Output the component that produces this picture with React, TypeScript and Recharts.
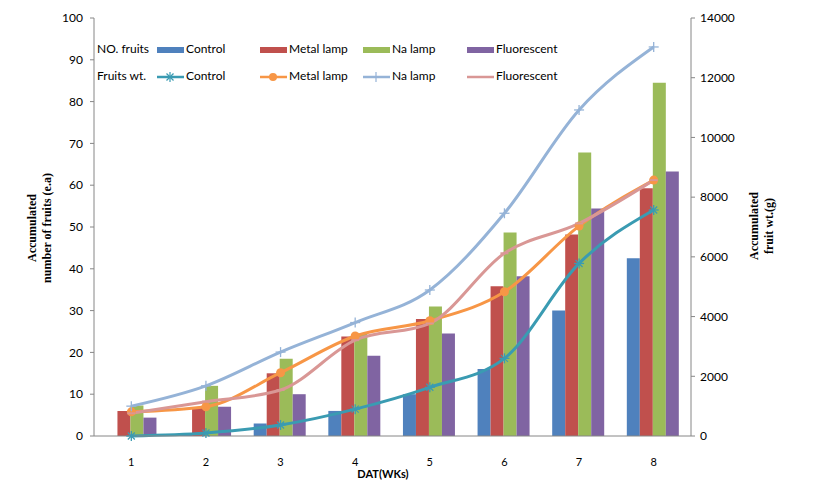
import React from 'react';
import { ComposedChart, Bar, Line, XAxis, YAxis } from 'recharts';

const weeks = ['1', '2', '3', '4', '5', '6', '7', '8'];

// number of fruits (left axis)
const ctrlCount = [0, 0.5, 3, 6, 10, 16, 30, 42.5];
const metalCount = [6, 6.8, 15, 23.8, 28, 35.8, 48.2, 59.3];
const naCount = [7.3, 12, 18.5, 24.5, 31, 48.7, 67.8, 84.5];
const fluoCount = [4.4, 7, 10, 19.2, 24.5, 38.2, 54.4, 63.3];

// fruit weight in g (right axis)
const ctrlWt = [0, 100, 370, 900, 1630, 2600, 5780, 7570];
const metalWt = [810, 980, 2120, 3350, 3860, 4830, 7030, 8570];
const naWt = [1000, 1680, 2810, 3800, 4890, 7460, 10920, 13030];
const fluoWt = [760, 1150, 1540, 3210, 3770, 6120, 7120, 8570];

const leftTicks = [0, 10, 20, 30, 40, 50, 60, 70, 80, 90, 100];
const rightTicks = [0, 2000, 4000, 6000, 8000, 10000, 12000, 14000];

const C = {
  ctrlBar: '#4F81BD',
  metalBar: '#C0504D',
  naBar: '#9BBB59',
  fluoBar: '#8064A2',
  ctrlLine: '#3A9BB2',
  metalLine: '#F79646',
  naLine: '#95B3D7',
  fluoLine: '#D99795',
};

const data = weeks.map((w, i) => ({
  week: w,
  ctrlCount: ctrlCount[i],
  metalCount: metalCount[i],
  naCount: naCount[i],
  fluoCount: fluoCount[i],
  ctrlWt: ctrlWt[i],
  metalWt: metalWt[i],
  naWt: naWt[i],
  fluoWt: fluoWt[i],
}));

const font = 'Lato, "Open Sans", sans-serif';

const StarDot = (p: any) => {
  const { cx, cy } = p;
  const s = 5;
  return (
    <g key={p.index} stroke={C.ctrlLine} strokeWidth={1.3}>
      <line x1={cx - s} y1={cy} x2={cx + s} y2={cy} />
      <line x1={cx} y1={cy - s} x2={cx} y2={cy + s} />
      <line x1={cx - 3.5} y1={cy - 3.5} x2={cx + 3.5} y2={cy + 3.5} />
      <line x1={cx - 3.5} y1={cy + 3.5} x2={cx + 3.5} y2={cy - 3.5} />
    </g>
  );
};

const CircleDot = (p: any) => (
  <circle key={p.index} cx={p.cx} cy={p.cy} r={4.5} fill={C.metalLine} />
);

const PlusDot = (p: any) => {
  const { cx, cy } = p;
  return (
    <g key={p.index} stroke={C.naLine} strokeWidth={1.3}>
      <line x1={cx - 5} y1={cy} x2={cx + 5} y2={cy} />
      <line x1={cx} y1={cy - 5} x2={cx} y2={cy + 5} />
    </g>
  );
};

const DashDot = (p: any) => (
  <line key={p.index} x1={p.cx - 4} y1={p.cy} x2={p.cx + 4} y2={p.cy} stroke={C.fluoLine} strokeWidth={2} />
);

const legendCols = [
  { name: 'Control', x: 157, bar: C.ctrlBar, line: C.ctrlLine, mark: 'star' },
  { name: 'Metal lamp', x: 260, bar: C.metalBar, line: C.metalLine, mark: 'circle' },
  { name: 'Na lamp', x: 363, bar: C.naBar, line: C.naLine, mark: 'plus' },
  { name: 'Fluorescent', x: 467, bar: C.fluoBar, line: C.fluoLine, mark: 'dash' },
];

function LegendMark({ col }: { col: (typeof legendCols)[number] }) {
  const cx = 13;
  const cy = 5;
  return (
    <svg width={27} height={10} style={{ display: 'block' }}>
      <line x1={0} y1={cy} x2={27} y2={cy} stroke={col.line} strokeWidth={2.5} />
      {col.mark === 'star' && (
        <g stroke={col.line} strokeWidth={1.2}>
          <line x1={cx - 5} y1={cy} x2={cx + 5} y2={cy} />
          <line x1={cx} y1={cy - 5} x2={cx} y2={cy + 5} />
          <line x1={cx - 3.5} y1={cy - 3.5} x2={cx + 3.5} y2={cy + 3.5} />
          <line x1={cx - 3.5} y1={cy + 3.5} x2={cx + 3.5} y2={cy - 3.5} />
        </g>
      )}
      {col.mark === 'circle' && <circle cx={cx} cy={cy} r={4} fill={col.line} />}
      {col.mark === 'plus' && (
        <line x1={cx} y1={cy - 5} x2={cx} y2={cy + 5} stroke={col.line} strokeWidth={1.2} />
      )}
    </svg>
  );
}

function ChartLegend() {
  const text: React.CSSProperties = { position: 'absolute', fontFamily: font, fontSize: 12, color: '#000', lineHeight: '14px' };
  return (
    <>
      <div style={{ ...text, left: 97, top: 42 }}>NO. fruits</div>
      <div style={{ ...text, left: 97, top: 69 }}>Fruits wt.</div>
      {legendCols.map((col) => (
        <React.Fragment key={col.name}>
          <div style={{ position: 'absolute', left: col.x, top: 47, width: 27, height: 6, background: col.bar }} />
          <div style={{ ...text, left: col.x + 29, top: 42 }}>{col.name}</div>
          <div style={{ position: 'absolute', left: col.x, top: 72 }}>
            <LegendMark col={col} />
          </div>
          <div style={{ ...text, left: col.x + 29, top: 69 }}>{col.name}</div>
        </React.Fragment>
      ))}
    </>
  );
}

const titleStyle: React.CSSProperties = {
  position: 'absolute',
  fontFamily: '"Liberation Serif", "Times New Roman", serif',
  fontWeight: 'bold',
  fontSize: 12,
  lineHeight: '15px',
  textAlign: 'center',
  whiteSpace: 'nowrap',
  transform: 'translate(-50%, -50%) rotate(-90deg)',
};

export default function App() {
  return (
    <div style={{ position: 'relative', width: 823, height: 489, margin: -8, background: '#fff' }}>
      <ComposedChart
        width={823}
        height={489}
        data={data}
        margin={{ top: 18, right: 72, bottom: 23, left: 34 }}
        barCategoryGap="14%"
        barGap={0}
      >
        <XAxis
          dataKey="week"
          stroke="#868686"
          tickLine={false}
          tickMargin={16}
          height={30}
          tick={{ fill: '#000', fontSize: 11, fontFamily: font }}
        />
        <YAxis
          yAxisId="left"
          domain={[0, 100]}
          ticks={leftTicks}
          interval={0}
          width={60}
          stroke="#868686"
          tickSize={4}
          tickMargin={7}
          tick={{ fill: '#000', fontSize: 12, fontFamily: font }}
        />
        <YAxis
          yAxisId="right"
          orientation="right"
          domain={[0, 14000]}
          ticks={rightTicks}
          interval={0}
          width={60}
          stroke="#868686"
          tickSize={4}
          tickMargin={5}
          tick={{ fill: '#000', fontSize: 12, fontFamily: font }}
        />
        <Bar yAxisId="left" dataKey="ctrlCount" fill={C.ctrlBar} isAnimationActive={false} />
        <Bar yAxisId="left" dataKey="metalCount" fill={C.metalBar} isAnimationActive={false} />
        <Bar yAxisId="left" dataKey="naCount" fill={C.naBar} isAnimationActive={false} />
        <Bar yAxisId="left" dataKey="fluoCount" fill={C.fluoBar} isAnimationActive={false} />
        <Line yAxisId="right" type="monotone" dataKey="ctrlWt" stroke={C.ctrlLine} strokeWidth={3} dot={StarDot} isAnimationActive={false} />
        <Line yAxisId="right" type="monotone" dataKey="metalWt" stroke={C.metalLine} strokeWidth={3} dot={CircleDot} isAnimationActive={false} />
        <Line yAxisId="right" type="monotone" dataKey="naWt" stroke={C.naLine} strokeWidth={3} dot={PlusDot} isAnimationActive={false} />
        <Line yAxisId="right" type="monotone" dataKey="fluoWt" stroke={C.fluoLine} strokeWidth={3} dot={DashDot} isAnimationActive={false} />
      </ComposedChart>
      <ChartLegend />
      <div style={{ ...titleStyle, left: 40, top: 228 }}>
        Accumulated
        <br />
        number of fruits (e.a)
      </div>
      <div style={{ ...titleStyle, left: 762, top: 226 }}>
        Accumulated
        <br />
        fruit wt.(g)
      </div>
      <div
        style={{
          position: 'absolute',
          left: 383,
          top: 473,
          transform: 'translate(-50%, -50%)',
          fontFamily: font,
          fontWeight: 'bold',
          fontSize: 11,
        }}
      >
        DAT(WKs)
      </div>
    </div>
  );
}
